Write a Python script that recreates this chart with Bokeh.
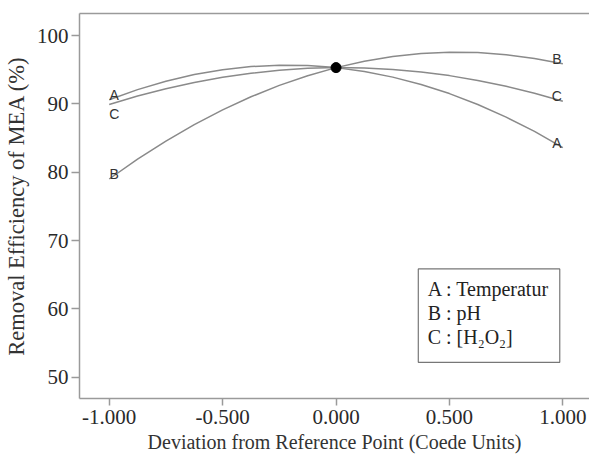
from bokeh.plotting import figure
from bokeh.models import (ColumnDataSource, FixedTicker, NumeralTickFormatter,
                          LinearAxis, Range1d, Label, BoxAnnotation)
from bokeh.core.properties import value
from bokeh.embed import file_html
from bokeh.resources import INLINE

# Deviation from reference point (coded units)
x_vals = [-1.0, -0.875, -0.75, -0.625, -0.5, -0.375, -0.25, -0.125, 0.0,
          0.125, 0.25, 0.375, 0.5, 0.625, 0.75, 0.875, 1.0]
# A : Temperatur
temp_A = [90.6, 92.08, 93.31, 94.28, 95.0, 95.46, 95.66, 95.61, 95.3,
          94.73, 93.91, 92.83, 91.5, 89.91, 88.06, 85.96, 83.6]
# B : pH
ph_B = [79.0, 81.9, 84.55, 86.96, 89.12, 91.03, 92.70, 94.12, 95.3,
        96.23, 96.92, 97.35, 97.55, 97.50, 97.20, 96.65, 95.86]
# C : [H2O2]
h2o2_C = [89.9, 91.14, 92.22, 93.13, 93.89, 94.48, 94.92, 95.19, 95.3,
          95.25, 95.04, 94.66, 94.13, 93.43, 92.58, 91.56, 90.38]

ref_x = [0.0]
ref_y = [95.3]

series_names = ["A", "B", "C"]
legend_lines = ["A : Temperatur", "B : pH", "C : [H\u2082O\u2082]"]

x_ticks = [-1.0, -0.5, 0.0, 0.5, 1.0]
y_ticks = [50, 60, 70, 80, 90, 100]

GREY = "#8a8a8a"
AXIS = "#9a9a9a"
SERIF = "Liberation Serif"

p = figure(width=589, height=461, output_backend="svg", toolbar_location=None,
           x_range=Range1d(-1.131, 1.1175), y_range=Range1d(46.88, 103.22),
           min_border_left=78, min_border_right=0, min_border_top=13,
           min_border_bottom=63)
p.background_fill_color = "white"
p.border_fill_color = "white"
p.outline_line_color = None
p.grid.visible = False

for ys in (temp_A, ph_B, h2o2_C):
    p.line(x_vals, ys, line_color=GREY, line_width=1.5)

p.scatter(ref_x, ref_y, size=10, color="black")

# curve labels at both ends
series = [temp_A, ph_B, h2o2_C]
groups = {"bottom": dict(x=[], y=[], t=[], o=[]), "top": dict(x=[], y=[], t=[], o=[])}
for name, ys in zip(series_names, series):
    g = groups["top" if name == "C" else "bottom"]
    g["x"].append(x_vals[0]); g["y"].append(ys[0]); g["t"].append(name); g["o"].append(5)
    g = groups["bottom"]
    g["x"].append(x_vals[-1]); g["y"].append(ys[-1]); g["t"].append(name); g["o"].append(-6)
for base, yoff in (("bottom", 3), ("top", 1)):
    src = ColumnDataSource(groups[base])
    p.text(x="x", y="y", text="t", x_offset="o", y_offset=yoff, source=src,
           text_font=value("Liberation Sans"), text_font_size="14px",
           text_align="center", text_baseline=base, text_color="#333333")

# axes styling
for ax in (p.xaxis[0], p.yaxis[0]):
    ax.axis_line_color = AXIS
    ax.axis_line_width = 1.5
    ax.major_tick_line_color = AXIS
    ax.major_tick_line_width = 1.5
    ax.major_tick_in = 0
    ax.major_tick_out = 8
    ax.minor_tick_line_color = None
    ax.major_label_text_font = SERIF
    ax.major_label_text_font_size = "21px"
    ax.major_label_text_color = "#2a2a2a"
    ax.axis_label_text_font = SERIF
    ax.axis_label_text_font_style = "normal"
    ax.axis_label_text_color = "#333333"

p.xaxis.ticker = FixedTicker(ticks=x_ticks)
p.xaxis.formatter = NumeralTickFormatter(format="0.000")
p.xaxis.major_tick_out = 7
p.xaxis.major_label_standoff = 4
p.xaxis.axis_label = "Deviation from Reference Point (Coede Units)"
p.xaxis.axis_label_text_font_size = "20px"
p.xaxis.axis_label_standoff = 4

p.yaxis.ticker = FixedTicker(ticks=y_ticks)
p.yaxis.major_label_standoff = 3
p.yaxis.axis_label = "Removal Efficiency of MEA (%)"
p.yaxis.axis_label_text_font_size = "22.5px"
p.yaxis.axis_label_standoff = 5

top = LinearAxis(ticker=FixedTicker(ticks=[]), axis_line_color=AXIS,
                 axis_line_width=1.5, major_tick_out=0, major_tick_in=0,
                 minor_tick_line_color=None, major_label_text_font_size="0px",
                 major_label_standoff=0)
p.add_layout(top, "above")

# legend box
box = BoxAnnotation(left=0.3627, right=0.9864, bottom=52.17, top=65.84,
                    fill_color="white", fill_alpha=1.0, line_color="#777777",
                    line_width=1.2, line_alpha=1.0)
p.add_layout(box)
for txt, yy in zip(legend_lines, [62.91, 59.34, 55.93]):
    p.add_layout(Label(x=0.404, y=yy, text=txt, text_font=SERIF,
                       text_font_size="20px", text_baseline="middle",
                       text_color="#222222"))

open("out.html", "w").write(file_html(p, INLINE))
